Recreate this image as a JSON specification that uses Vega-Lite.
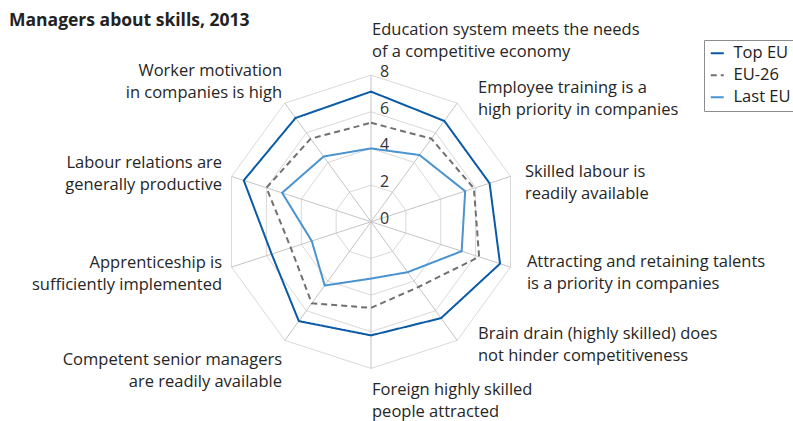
{
  "$schema": "https://vega.github.io/schema/vega-lite/v6.json",
  "width": 793,
  "height": 393,
  "autosize": {"type": "none"},
  "padding": {"left": 0, "top": 28, "right": 0, "bottom": 0},
  "title": {"text": "Managers about skills, 2013", "anchor": "start", "frame": "group", "font": "Open Sans", "fontSize": 17.5, "fontWeight": "bold", "color": "#222222", "dx": 9, "dy": 12, "offset": 4},
  "config": {"view": {"stroke": null}, "font": "Open Sans"},
  "datasets": {
    "axes": [
      {"k": 0, "label": "Education system meets the needs\nof a competitive economy"},
      {"k": 1, "label": "Employee training is a\nhigh priority in companies"},
      {"k": 2, "label": "Skilled labour is\nreadily available"},
      {"k": 3, "label": "Attracting and retaining talents\nis a priority in companies"},
      {"k": 4, "label": "Brain drain (highly skilled) does\nnot hinder competitiveness"},
      {"k": 5, "label": "Foreign highly skilled\npeople attracted"},
      {"k": 6, "label": "Competent senior managers\nare readily available"},
      {"k": 7, "label": "Apprenticeship is\nsufficiently implemented"},
      {"k": 8, "label": "Labour relations are\ngenerally productive"},
      {"k": 9, "label": "Worker motivation\nin companies is high"}
    ],
    "rings": [
      {"ring": 2, "k": [0, 1, 2, 3, 4, 5, 6, 7, 8, 9]},
      {"ring": 4, "k": [0, 1, 2, 3, 4, 5, 6, 7, 8, 9]},
      {"ring": 6, "k": [0, 1, 2, 3, 4, 5, 6, 7, 8, 9]},
      {"ring": 8, "k": [0, 1, 2, 3, 4, 5, 6, 7, 8, 9]}
    ],
    "ticks": [{"v": 0}, {"v": 2}, {"v": 4}, {"v": 6}, {"v": 8}],
    "scores": [
      {"series": "Top EU", "k": 0, "value": 7.1},
      {"series": "Top EU", "k": 1, "value": 6.8},
      {"series": "Top EU", "k": 2, "value": 6.8},
      {"series": "Top EU", "k": 3, "value": 7.4},
      {"series": "Top EU", "k": 4, "value": 6.5},
      {"series": "Top EU", "k": 5, "value": 6.2},
      {"series": "Top EU", "k": 6, "value": 6.7},
      {"series": "Top EU", "k": 7, "value": 5.7},
      {"series": "Top EU", "k": 8, "value": 7.3},
      {"series": "Top EU", "k": 9, "value": 7.0},
      {"series": "EU-26", "k": 0, "value": 5.4},
      {"series": "EU-26", "k": 1, "value": 5.6},
      {"series": "EU-26", "k": 2, "value": 5.9},
      {"series": "EU-26", "k": 3, "value": 6.2},
      {"series": "EU-26", "k": 4, "value": 4.4},
      {"series": "EU-26", "k": 5, "value": 4.7},
      {"series": "EU-26", "k": 6, "value": 5.5},
      {"series": "EU-26", "k": 7, "value": 4.6},
      {"series": "EU-26", "k": 8, "value": 6.0},
      {"series": "EU-26", "k": 9, "value": 5.6},
      {"series": "Last EU", "k": 0, "value": 4.0},
      {"series": "Last EU", "k": 1, "value": 4.5},
      {"series": "Last EU", "k": 2, "value": 5.4},
      {"series": "Last EU", "k": 3, "value": 5.2},
      {"series": "Last EU", "k": 4, "value": 3.4},
      {"series": "Last EU", "k": 5, "value": 3.1},
      {"series": "Last EU", "k": 6, "value": 4.3},
      {"series": "Last EU", "k": 7, "value": 3.4},
      {"series": "Last EU", "k": 8, "value": 5.1},
      {"series": "Last EU", "k": 9, "value": 4.4}
    ]
  },
  "encoding": {
    "x": {"field": "px", "type": "quantitative", "scale": {"domain": [-20.24, 23.02], "nice": false, "zero": false}, "axis": null},
    "y": {"field": "py", "type": "quantitative", "scale": {"domain": [-10.87, 10.57], "nice": false, "zero": false}, "axis": null}
  },
  "layer": [
    {
      "data": {"name": "rings"},
      "transform": [
        {"flatten": ["k"]},
        {"calculate": "datum.k * PI / 5", "as": "a"},
        {"calculate": "datum.ring * sin(datum.a)", "as": "px"},
        {"calculate": "datum.ring * cos(datum.a)", "as": "py"}
      ],
      "mark": {"type": "line", "interpolate": "linear-closed", "stroke": "#d9d9d9", "strokeWidth": 1},
      "encoding": {"detail": {"field": "ring", "type": "nominal"}, "order": {"field": "k", "type": "quantitative"}}
    },
    {
      "data": {"name": "axes"},
      "transform": [
        {"calculate": "datum.k * PI / 5", "as": "a"},
        {"calculate": "0", "as": "px"},
        {"calculate": "0", "as": "py"},
        {"calculate": "8 * sin(datum.a)", "as": "ex"},
        {"calculate": "8 * cos(datum.a)", "as": "ey"}
      ],
      "mark": {"type": "rule", "stroke": "#c4c4c4", "strokeWidth": 1},
      "encoding": {"x2": {"field": "ex"}, "y2": {"field": "ey"}}
    },
    {
      "data": {"name": "ticks"},
      "transform": [
        {"calculate": "0", "as": "px"},
        {"calculate": "datum.v", "as": "py"}
      ],
      "mark": {"type": "text", "align": "left", "baseline": "alphabetic", "dx": 9, "dy": 2, "fontSize": 16, "color": "#333333"},
      "encoding": {"text": {"field": "v", "type": "nominal"}}
    },
    {
      "data": {"name": "scores"},
      "transform": [
        {"calculate": "datum.k * PI / 5", "as": "a"},
        {"calculate": "datum.value * sin(datum.a)", "as": "px"},
        {"calculate": "datum.value * cos(datum.a)", "as": "py"}
      ],
      "mark": {"type": "line", "interpolate": "linear-closed", "strokeWidth": 2},
      "encoding": {
        "color": {
          "field": "series", "type": "nominal",
          "scale": {"domain": ["Top EU", "EU-26", "Last EU"], "range": ["#0a5aa5", "#707070", "#4a93cf"]},
          "legend": {"title": null, "orient": "none", "legendX": 704, "legendY": 12, "symbolType": "stroke", "symbolSize": 169, "symbolStrokeWidth": 2, "labelFontSize": 16.5, "labelFont": "Open Sans", "labelColor": "#222222", "rowPadding": 5, "padding": 5, "strokeColor": "#8c8c8c", "fillColor": "white", "labelOffset": 8}
        },
        "strokeDash": {
          "field": "series", "type": "nominal",
          "scale": {"domain": ["Top EU", "EU-26", "Last EU"], "range": [[1, 0], [6, 4], [1, 0]]},
          "legend": {"title": null, "orient": "none", "legendX": 704, "legendY": 12, "symbolType": "stroke", "symbolSize": 169, "symbolStrokeWidth": 2, "labelFontSize": 16.5, "labelFont": "Open Sans", "labelColor": "#222222", "rowPadding": 5, "padding": 5, "strokeColor": "#8c8c8c", "fillColor": "white", "labelOffset": 8}
        },
        "order": {"field": "k", "type": "quantitative"}
      }
    },
    {
      "data": {"name": "axes"},
      "transform": [{"filter": "datum.k == 0"}, {"calculate": "9 * sin(datum.k * PI / 5)", "as": "px"}, {"calculate": "9 * cos(datum.k * PI / 5)", "as": "py"}],
      "mark": {"type": "text", "align": "left", "baseline": "middle", "lineBreak": "\n", "lineHeight": 22, "fontSize": 16.5, "color": "#262626", "dx": 1, "dy": -27},
      "encoding": {"text": {"field": "label"}}
    },
    {
      "data": {"name": "axes"},
      "transform": [{"filter": "datum.k == 1"}, {"calculate": "9 * sin(datum.k * PI / 5)", "as": "px"}, {"calculate": "9 * cos(datum.k * PI / 5)", "as": "py"}],
      "mark": {"type": "text", "align": "left", "baseline": "middle", "lineBreak": "\n", "lineHeight": 22, "fontSize": 16.5, "color": "#262626", "dx": 10, "dy": 0},
      "encoding": {"text": {"field": "label"}}
    },
    {
      "data": {"name": "axes"},
      "transform": [{"filter": "datum.k == 2"}, {"calculate": "9 * sin(datum.k * PI / 5)", "as": "px"}, {"calculate": "9 * cos(datum.k * PI / 5)", "as": "py"}],
      "mark": {"type": "text", "align": "left", "baseline": "middle", "lineBreak": "\n", "lineHeight": 22, "fontSize": 16.5, "color": "#262626", "dx": -3, "dy": 1},
      "encoding": {"text": {"field": "label"}}
    },
    {
      "data": {"name": "axes"},
      "transform": [{"filter": "datum.k == 3"}, {"calculate": "9 * sin(datum.k * PI / 5)", "as": "px"}, {"calculate": "9 * cos(datum.k * PI / 5)", "as": "py"}],
      "mark": {"type": "text", "align": "left", "baseline": "middle", "lineBreak": "\n", "lineHeight": 22, "fontSize": 16.5, "color": "#262626", "dx": -1, "dy": -11},
      "encoding": {"text": {"field": "label"}}
    },
    {
      "data": {"name": "axes"},
      "transform": [{"filter": "datum.k == 4"}, {"calculate": "9 * sin(datum.k * PI / 5)", "as": "px"}, {"calculate": "9 * cos(datum.k * PI / 5)", "as": "py"}],
      "mark": {"type": "text", "align": "left", "baseline": "middle", "lineBreak": "\n", "lineHeight": 22, "fontSize": 16.5, "color": "#262626", "dx": 10, "dy": -21},
      "encoding": {"text": {"field": "label"}}
    },
    {
      "data": {"name": "axes"},
      "transform": [{"filter": "datum.k == 5"}, {"calculate": "9 * sin(datum.k * PI / 5)", "as": "px"}, {"calculate": "9 * cos(datum.k * PI / 5)", "as": "py"}],
      "mark": {"type": "text", "align": "left", "baseline": "middle", "lineBreak": "\n", "lineHeight": 22, "fontSize": 16.5, "color": "#262626", "dx": 1, "dy": 3},
      "encoding": {"text": {"field": "label"}}
    },
    {
      "data": {"name": "axes"},
      "transform": [{"filter": "datum.k == 6"}, {"calculate": "9 * sin(datum.k * PI / 5)", "as": "px"}, {"calculate": "9 * cos(datum.k * PI / 5)", "as": "py"}],
      "mark": {"type": "text", "align": "right", "baseline": "middle", "lineBreak": "\n", "lineHeight": 22, "fontSize": 16.5, "color": "#262626", "dx": 8, "dy": 5},
      "encoding": {"text": {"field": "label"}}
    },
    {
      "data": {"name": "axes"},
      "transform": [{"filter": "datum.k == 7"}, {"calculate": "9 * sin(datum.k * PI / 5)", "as": "px"}, {"calculate": "9 * cos(datum.k * PI / 5)", "as": "py"}],
      "mark": {"type": "text", "align": "right", "baseline": "middle", "lineBreak": "\n", "lineHeight": 22, "fontSize": 16.5, "color": "#262626", "dx": 8, "dy": -10},
      "encoding": {"text": {"field": "label"}}
    },
    {
      "data": {"name": "axes"},
      "transform": [{"filter": "datum.k == 8"}, {"calculate": "9 * sin(datum.k * PI / 5)", "as": "px"}, {"calculate": "9 * cos(datum.k * PI / 5)", "as": "py"}],
      "mark": {"type": "text", "align": "right", "baseline": "middle", "lineBreak": "\n", "lineHeight": 22, "fontSize": 16.5, "color": "#262626", "dx": 8, "dy": -8},
      "encoding": {"text": {"field": "label"}}
    },
    {
      "data": {"name": "axes"},
      "transform": [{"filter": "datum.k == 9"}, {"calculate": "9 * sin(datum.k * PI / 5)", "as": "px"}, {"calculate": "9 * cos(datum.k * PI / 5)", "as": "py"}],
      "mark": {"type": "text", "align": "right", "baseline": "middle", "lineBreak": "\n", "lineHeight": 22, "fontSize": 16.5, "color": "#262626", "dx": 8, "dy": -17},
      "encoding": {"text": {"field": "label"}}
    }
  ]
}
